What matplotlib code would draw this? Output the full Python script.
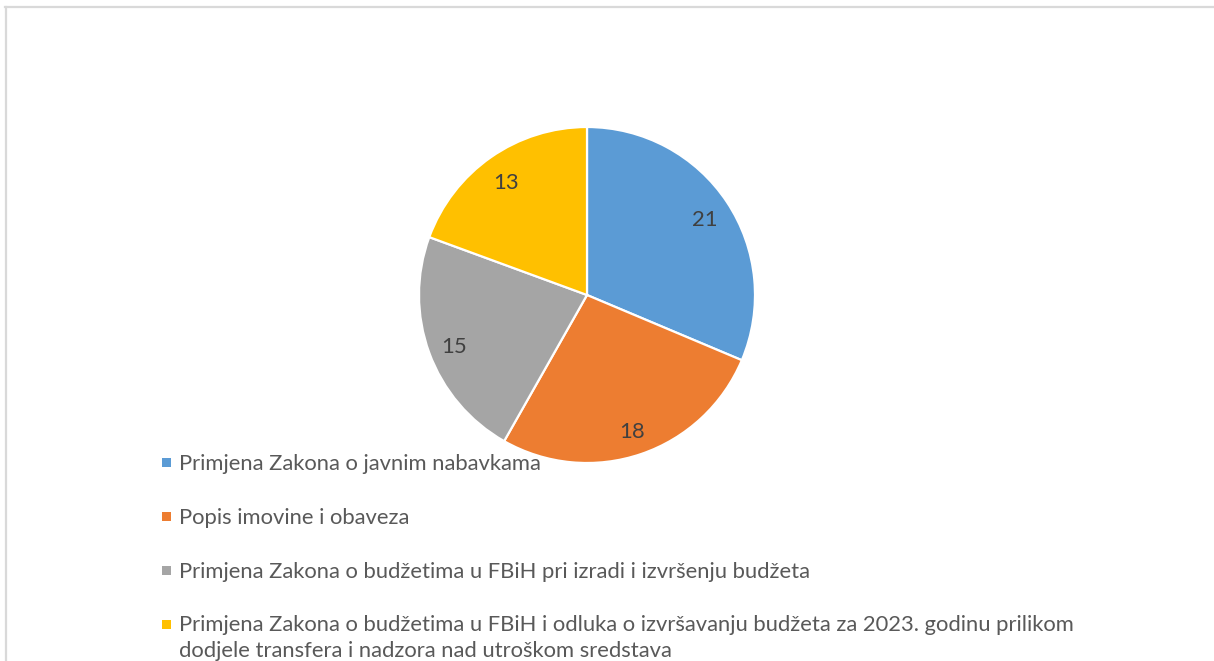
import matplotlib
matplotlib.use("Agg")
import matplotlib.pyplot as plt
from matplotlib.patches import Rectangle
from matplotlib.lines import Line2D
from matplotlib.transforms import ScaledTranslation

categories = [
    "Primjena Zakona o javnim nabavkama",
    "Popis imovine i obaveza",
    "Primjena Zakona o budžetima u FBiH pri izradi i izvršenju budžeta",
    "Primjena Zakona o budžetima u FBiH i odluka o izvršavanju budžeta za 2023. godinu prilikom\ndodjele transfera i nadzora nad utroškom sredstava",
]
values = [21, 18, 15, 13]
colors = ["#5B9BD5", "#ED7D31", "#A5A5A5", "#FFC000"]

W, H = 1214, 661
fig = plt.figure(figsize=(W / 100, H / 100), dpi=100)
FONT = "Lato"
FS = 15.85

def fx(px):
    return px / W

def fy(py):
    return 1 - py / H

# border
fig.add_artist(Line2D([fx(5), 1.0], [fy(7), fy(7)], color="#D9D9D9", lw=1.6, transform=fig.transFigure))
fig.add_artist(Line2D([fx(6), fx(6)], [fy(7), 0.0], color="#D9D9D9", lw=1.6, transform=fig.transFigure))

# pie
cx, cy, r = 587, 295, 168
ax = fig.add_axes([fx(cx - r), fy(cy + r), (2 * r) / W, (2 * r) / H])
total = sum(values)
wedges, texts, autotexts = ax.pie(
    values,
    colors=colors,
    startangle=90,
    counterclock=False,
    radius=1,
    autopct=lambda p: f"{round(p * total / 100):d}",
    pctdistance=0.84,
    wedgeprops=dict(edgecolor="white", linewidth=1.6),
    textprops=dict(color="#404040", fontsize=FS, family=FONT),
)
for t in autotexts:
    t.set_transform(ax.transData + ScaledTranslation(0, -0.035, fig.dpi_scale_trans))
ax.set_xlim(-1, 1)
ax.set_ylim(-1, 1)
ax.axis("off")

# legend
row_y = [462.5, 516.5, 570.5, 624]
for i, (lab, col) in enumerate(zip(categories, colors)):
    my = row_y[i]
    fig.add_artist(Rectangle((fx(162), fy(my + 4.5)), 9 / W, 9 / H, facecolor=col,
                             edgecolor="none", transform=fig.transFigure, zorder=5))
    lines = lab.split("\n")
    for j, ln in enumerate(lines):
        fig.text(fx(179), fy(my + 7 + 26 * j), ln, fontsize=FS, family=FONT,
                 color="#595959", va="baseline", ha="left", zorder=6)

fig.savefig("out.png", dpi=100, facecolor="white")
